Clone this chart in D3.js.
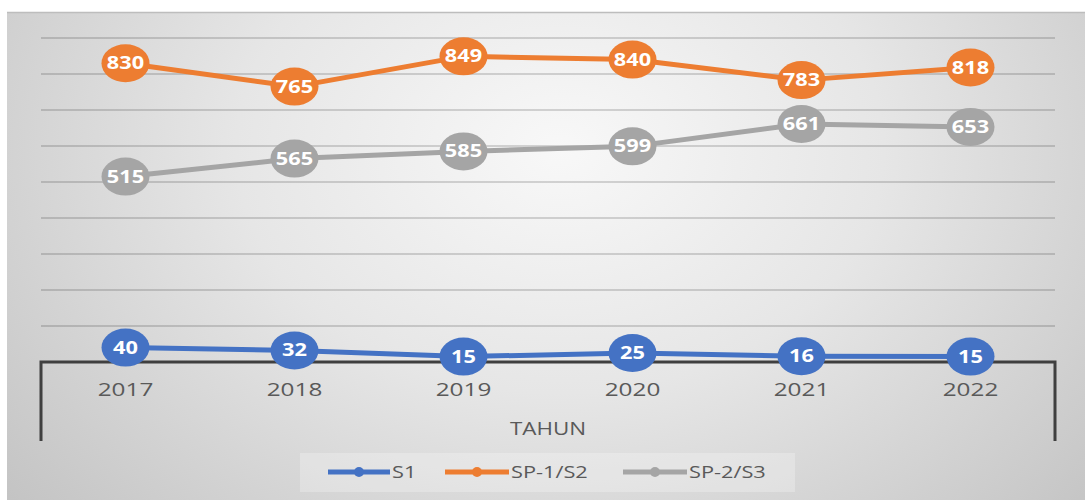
<!DOCTYPE html>
<html>
<head>
<meta charset="utf-8">
<script src="https://cdn.jsdelivr.net/npm/d3@7"></script>
<style>
  body { margin: 0; background: #fff; }
  svg { display: block; font-family: 'Open Sans', sans-serif; }
</style>
</head>
<body>
<svg id="chart"></svg>
<script>
const YEARS = ['2017', '2018', '2019', '2020', '2021', '2022'];
const S1 = [40, 32, 15, 25, 16, 15];
const SP1_S2 = [830, 765, 849, 840, 783, 818];
const SP2_S3 = [515, 565, 585, 599, 661, 653];
const SERIES_NAMES = ['S1', 'SP-1/S2', 'SP-2/S3'];
const Y_TICKS = [0, 100, 200, 300, 400, 500, 600, 700, 800, 900];

const WIDTH = 1085;
const HEIGHT = 500;
const PLOT = { left: 41, right: 1055, top: 38, bottom: 362 };
const COLORS = ['#4472C4', '#ED7D31', '#A5A5A5'];
const STRETCH = 1.28; // text in the source is stretched sideways

const series = [S1, SP1_S2, SP2_S3].map((values, i) => ({
  name: SERIES_NAMES[i],
  color: COLORS[i],
  values: values.map((v, j) => ({ year: YEARS[j], value: v }))
}));

const svg = d3.select('#chart')
  .attr('width', WIDTH)
  .attr('height', HEIGHT);

// panel background
const defs = svg.append('defs');
const grad = defs.append('radialGradient')
  .attr('id', 'bg')
  .attr('gradientUnits', 'userSpaceOnUse')
  .attr('cx', 560).attr('cy', 150).attr('r', 720)
  .attr('gradientTransform', 'translate(560,150) scale(1,0.75) translate(-560,-150)');
grad.append('stop').attr('offset', '0%').attr('stop-color', '#f8f8f8');
grad.append('stop').attr('offset', '45%').attr('stop-color', '#e6e6e6');
grad.append('stop').attr('offset', '100%').attr('stop-color', '#c4c4c4');

svg.append('rect')
  .attr('x', 7).attr('y', 12)
  .attr('width', WIDTH - 7).attr('height', HEIGHT - 12)
  .attr('fill', 'url(#bg)');
svg.append('line')
  .attr('x1', 7).attr('x2', WIDTH)
  .attr('y1', 12.5).attr('y2', 12.5)
  .attr('stroke', '#bdbdbd').attr('stroke-width', 1.5);

const x = d3.scaleBand()
  .domain(YEARS)
  .range([PLOT.left, PLOT.right]);

const y = d3.scaleLinear()
  .domain([0, 900])
  .range([PLOT.bottom, PLOT.top]);

// gridlines
svg.append('g')
  .selectAll('line')
  .data(Y_TICKS.filter(d => d > 0))
  .enter()
  .append('line')
  .attr('x1', PLOT.left).attr('x2', PLOT.right)
  .attr('y1', d => y(d)).attr('y2', d => y(d))
  .attr('stroke', 'rgba(0,0,0,0.2)')
  .attr('stroke-width', 1.5);

// category axis with the long end ticks
const axis = svg.append('g');
axis.append('path')
  .attr('d', `M${PLOT.left},441V${y(0)}H${PLOT.right}V441`)
  .attr('fill', 'none')
  .attr('stroke', '#3f3f3f')
  .attr('stroke-width', 3);

axis.selectAll('.year')
  .data(YEARS)
  .enter()
  .append('text')
  .classed('year', true)
  .attr('transform', d => `translate(${x(d) + x.bandwidth() / 2},396) scale(${STRETCH},1)`)
  .attr('text-anchor', 'middle')
  .attr('font-size', 19)
  .attr('fill', '#595959')
  .text(d => d);

svg.append('text')
  .attr('transform', `translate(${(PLOT.left + PLOT.right) / 2},435) scale(${STRETCH},1)`)
  .attr('text-anchor', 'middle')
  .attr('font-size', 17.5)
  .attr('fill', '#595959')
  .text('TAHUN');

// lines + markers
const line = d3.line()
  .x(d => x(d.year) + x.bandwidth() / 2)
  .y(d => y(d.value));

const groups = svg.selectAll('.series')
  .data(series)
  .enter()
  .append('g')
  .classed('series', true);

groups.append('path')
  .attr('d', d => line(d.values))
  .attr('fill', 'none')
  .attr('stroke', d => d.color)
  .attr('stroke-width', 5)
  .attr('stroke-linejoin', 'round');

groups.each(function (s) {
  const g = d3.select(this);
  g.selectAll('ellipse')
    .data(s.values)
    .enter()
    .append('ellipse')
    .attr('cx', d => x(d.year) + x.bandwidth() / 2)
    .attr('cy', d => y(d.value))
    .attr('rx', 24)
    .attr('ry', 19)
    .attr('fill', s.color);
  g.selectAll('.label')
    .data(s.values)
    .enter()
    .append('text')
    .classed('label', true)
    .attr('transform', d => `translate(${x(d.year) + x.bandwidth() / 2},${y(d.value) + 6}) scale(${STRETCH},1)`)
    .attr('text-anchor', 'middle')
    .attr('font-size', 17)
    .attr('font-weight', 700)
    .attr('fill', '#fff')
    .text(d => d.value);
});

// legend
const legend = svg.append('g');
legend.append('rect')
  .attr('x', 300).attr('y', 453)
  .attr('width', 495).attr('height', 39)
  .attr('fill', 'rgba(255,255,255,0.25)');

const LEGEND_X = [328, 445, 623];
const items = legend.selectAll('.item')
  .data(series)
  .enter()
  .append('g')
  .classed('item', true)
  .attr('transform', (d, i) => `translate(${LEGEND_X[i]},472)`);

items.append('line')
  .attr('x1', 0).attr('x2', (d, i) => i === 0 ? 62 : 64)
  .attr('y1', 0).attr('y2', 0)
  .attr('stroke', d => d.color)
  .attr('stroke-width', 5);
items.append('circle')
  .attr('cx', (d, i) => i === 0 ? 31 : 32)
  .attr('cy', 0)
  .attr('r', 5)
  .attr('fill', d => d.color);
items.append('text')
  .attr('transform', (d, i) => `translate(${i === 0 ? 64 : 66},6) scale(${STRETCH},1)`)
  .attr('font-size', 17)
  .attr('fill', '#595959')
  .text(d => d.name);
</script>
</body>
</html>
